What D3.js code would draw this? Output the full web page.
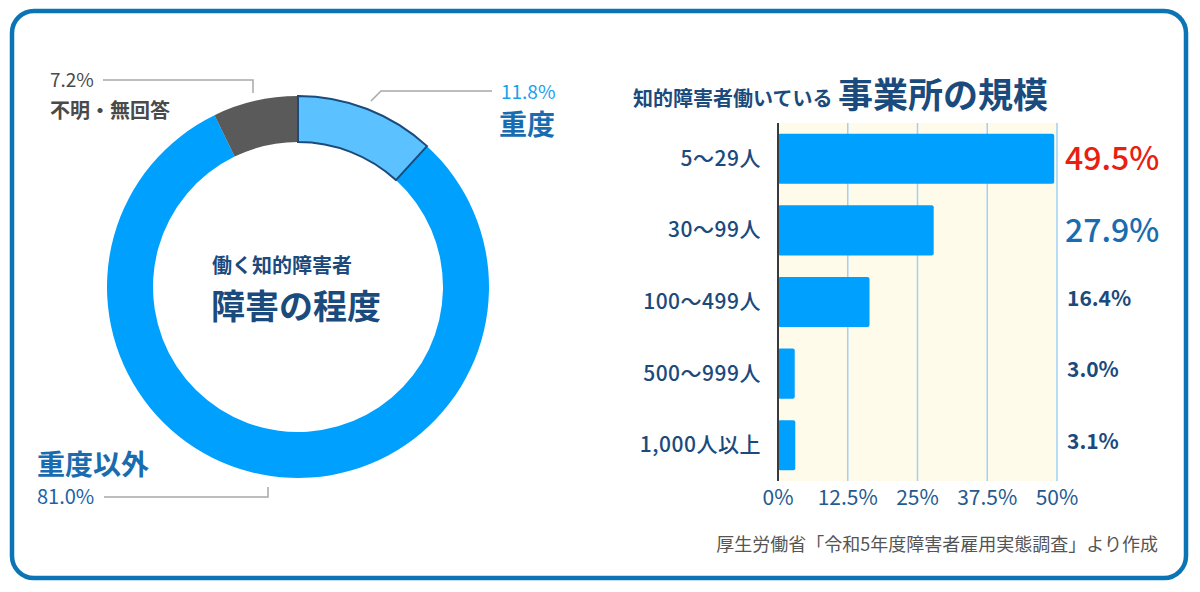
<!DOCTYPE html>
<html>
<head>
<meta charset="utf-8">
<script src="https://cdn.jsdelivr.net/npm/d3@7"></script>
<style>
  body { margin: 0; background: #fff; }
  svg { display: block; font-family: "Noto Sans CJK JP", "Noto Sans", sans-serif; }
</style>
</head>
<body>
<svg id="chart" width="1200" height="592"></svg>
<script>
// donut data: degree of disability
var degreeNames = ["重度", "重度以外", "不明・無回答"];
var degreeValues = [11.8, 81.0, 7.2];

// bar data: size of workplace
var sizeNames = ["5〜29人", "30〜99人", "100〜499人", "500〜999人", "1,000人以上"];
var sizeValues = [49.5, 27.9, 16.4, 3.0, 3.1];
var tickValues = [0, 12.5, 25, 37.5, 50];
var tickLabels = ["0%", "12.5%", "25%", "37.5%", "50%"];

var navy = "#1b4a7c";
var svg = d3.select("#chart");

// outer frame
svg.append("rect")
    .attr("x", 12).attr("y", 11)
    .attr("width", 1174).attr("height", 567)
    .attr("rx", 22)
    .attr("fill", "#fff")
    .attr("stroke", "#0b74b4")
    .attr("stroke-width", 4.5);

// ---------- donut ----------
var cx = 298, cy = 287;
var pie = d3.pie().sort(null).value(function(d) { return d; });
var arc = d3.arc().innerRadius(145).outerRadius(191);
var sliceFill = ["#5cc2ff", "#00a0ff", "#5a5a5a"];

var donut = svg.append("g").attr("transform", "translate(" + cx + "," + cy + ")");
donut.selectAll("path")
    .data(pie(degreeValues))
    .enter().append("path")
    .attr("d", arc)
    .attr("fill", function(d, i) { return sliceFill[i]; });
// outline only the highlighted slice
donut.append("path")
    .attr("d", arc(pie(degreeValues)[0]))
    .attr("fill", "none")
    .attr("stroke", navy)
    .attr("stroke-width", 2);

donut.append("text")
    .attr("x", -86).attr("y", -14)
    .attr("font-size", 20).attr("font-weight", 700)
    .attr("fill", navy)
    .text("働く知的障害者");
donut.append("text")
    .attr("x", -87).attr("y", 32)
    .attr("font-size", 34).attr("font-weight", 700)
    .attr("fill", navy)
    .text("障害の程度");

// leader lines
var leader = "#a8a8a8";
svg.append("path").attr("d", "M371,101L381,91H492")
    .attr("fill", "none").attr("stroke", leader).attr("stroke-width", 1.5);
svg.append("path").attr("d", "M103,80H253V93")
    .attr("fill", "none").attr("stroke", leader).attr("stroke-width", 1.5);
svg.append("path").attr("d", "M104,497H268V487")
    .attr("fill", "none").attr("stroke", leader).attr("stroke-width", 1.5);

// slice labels
svg.append("text").attr("x", 501).attr("y", 99)
    .attr("font-size", 19).attr("fill", "#18a0f0")
    .text(degreeValues[0].toFixed(1) + "%");
svg.append("text").attr("x", 499).attr("y", 135)
    .attr("font-size", 28).attr("font-weight", 700).attr("fill", "#1a6cb0")
    .text(degreeNames[0]);

svg.append("text").attr("x", 37).attr("y", 475)
    .attr("font-size", 28).attr("font-weight", 700).attr("fill", "#1a6cb0")
    .text(degreeNames[1]);
svg.append("text").attr("x", 37).attr("y", 504)
    .attr("font-size", 20).attr("fill", "#1a62a8")
    .text(degreeValues[1].toFixed(1) + "%");

svg.append("text").attr("x", 50).attr("y", 87)
    .attr("font-size", 19).attr("fill", "#4a4a4a")
    .text(degreeValues[2].toFixed(1) + "%");
svg.append("text").attr("x", 50).attr("y", 118)
    .attr("font-size", 20).attr("font-weight", 700).attr("fill", "#4a4a4a")
    .text(degreeNames[2]);

// ---------- bar chart ----------
var x0 = 778, x1 = 1057, yTop = 123, yBottom = 481;
var x = d3.scaleLinear().domain([0, 50]).range([x0, x1]);
var y = d3.scaleBand().domain(sizeNames).range([yTop, yBottom]).paddingInner(0.3).paddingOuter(0.15);

svg.append("rect")
    .attr("x", x0).attr("y", yTop)
    .attr("width", x1 - x0).attr("height", yBottom - yTop)
    .attr("fill", "#fffbea");

svg.selectAll(".grid")
    .data(tickValues.slice(1))
    .enter().append("line")
    .attr("class", "grid")
    .attr("x1", function(d) { return x(d); })
    .attr("x2", function(d) { return x(d); })
    .attr("y1", yTop).attr("y2", yBottom)
    .attr("stroke", "#9fd0f5").attr("stroke-width", 1.5);

svg.selectAll(".bar")
    .data(sizeValues)
    .enter().append("rect")
    .attr("class", "bar")
    .attr("x", x0)
    .attr("y", function(d, i) { return y(sizeNames[i]); })
    .attr("width", function(d) { return x(d) - x0; })
    .attr("height", y.bandwidth())
    .attr("rx", 2)
    .attr("fill", "#00a0ff");

svg.append("line")
    .attr("x1", x0).attr("x2", x0)
    .attr("y1", yTop).attr("y2", yBottom)
    .attr("stroke", "#3a3a3a").attr("stroke-width", 2);

// x axis ticks
svg.selectAll(".tick-label")
    .data(tickValues)
    .enter().append("text")
    .attr("class", "tick-label")
    .attr("x", function(d) { return x(d); })
    .attr("y", 505)
    .attr("text-anchor", "middle")
    .attr("font-size", 21)
    .attr("fill", "#245a90")
    .text(function(d, i) { return tickLabels[i]; });

// category labels
svg.selectAll(".cat")
    .data(sizeNames)
    .enter().append("text")
    .attr("class", "cat")
    .attr("x", 761)
    .attr("y", function(d) { return y(d) + y.bandwidth() / 2 + 7; })
    .attr("text-anchor", "end")
    .attr("font-size", 21).attr("font-weight", 500)
    .attr("letter-spacing", 0.5)
    .attr("fill", navy)
    .text(function(d) { return d; });

// value labels
var valSize = [32, 32, 21, 21, 21];
var valColor = ["#e8200e", "#1a6cb0", navy, navy, navy];
var valWeight = [500, 500, 700, 700, 700];
var valDy = [0, 0, -4, -4, -4];
svg.selectAll(".val")
    .data(sizeValues)
    .enter().append("text")
    .attr("class", "val")
    .attr("x", function(d, i) { return i < 2 ? 1065 : 1067; })
    .attr("y", function(d, i) { return y(sizeNames[i]) + y.bandwidth() / 2 + valSize[i] * 0.36 + valDy[i]; })
    .attr("font-size", function(d, i) { return valSize[i]; })
    .attr("font-weight", function(d, i) { return valWeight[i]; })
    .attr("fill", function(d, i) { return valColor[i]; })
    .text(function(d) { return d.toFixed(1) + "%"; });

// title
svg.append("text").attr("x", 633).attr("y", 106)
    .attr("font-size", 20).attr("font-weight", 700).attr("fill", navy)
    .text("知的障害者働いている");
svg.append("text").attr("x", 838).attr("y", 108)
    .attr("font-size", 35).attr("font-weight", 700).attr("fill", navy)
    .text("事業所の規模");

// source
svg.append("text").attr("x", 1158).attr("y", 551)
    .attr("text-anchor", "end")
    .attr("font-size", 18).attr("fill", "#555")
    .text("厚生労働省「令和5年度障害者雇用実態調査」より作成");
</script>
</body>
</html>
